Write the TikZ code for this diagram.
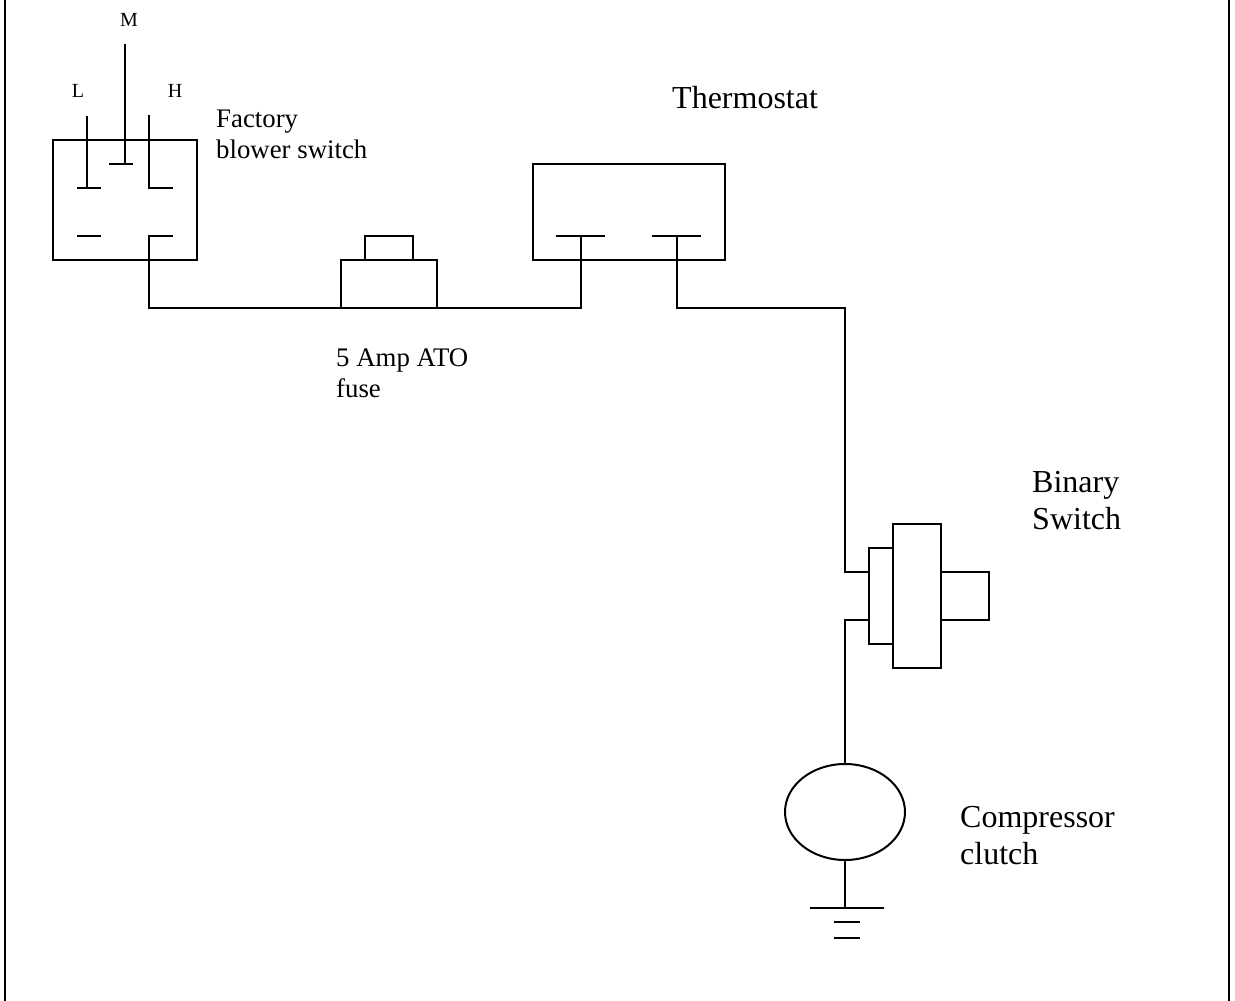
\documentclass[tikz,border=0pt]{standalone}
\usepackage{fontspec}
\setmainfont{Liberation Serif}
\usetikzlibrary{shapes.geometric}
\tikzset{
  wire/.style={line width=2pt, color=black},
  part/.style={draw, line width=2pt, inner sep=0pt, outer sep=0pt},
  small/.style={anchor=base, inner sep=0pt, font=\fontsize{20}{24}\selectfont},
  mid/.style={anchor=base west, inner sep=0pt, align=left, font=\fontsize{26.8}{30.5}\selectfont},
  big/.style={anchor=base west, inner sep=0pt, align=left, font=\fontsize{32}{36.5}\selectfont},
}
\begin{document}
\begin{tikzpicture}[x=1pt, y=-1pt]
    \useasboundingbox (0,0) rectangle (1235,1001);

    % frame
    \coordinate (frameA) at (5,0);
    \coordinate (frameB) at (5,1001);
    \coordinate (frameC) at (1229,0);
    \coordinate (frameD) at (1229,1001);
    \draw[line width=2.4pt] (frameA) -- (frameB) (frameC) -- (frameD);

    % parts
    \node[part, minimum width=144pt, minimum height=120pt] (blower) at (125,200) {};
    \node[part, minimum width=96pt, minimum height=48pt] (fuse) at (389,284) {};
    \node[part, minimum width=48pt, minimum height=24pt] (fusecap) at (389,248) {};
    \node[part, minimum width=192pt, minimum height=96pt] (thermo) at (629,212) {};
    \node[part, minimum width=24pt, minimum height=96pt] (binaryA) at (881,596) {};
    \node[part, minimum width=48pt, minimum height=144pt] (binaryB) at (917,596) {};
    \node[part, minimum width=48pt, minimum height=48pt] (binaryC) at (965,596) {};
    \node[part, ellipse, minimum width=120pt, minimum height=96pt] (clutch) at (845,812) {};

    % switch contacts
    \coordinate (lowTop) at (87,116);
    \coordinate (lowEnd) at (87,188);
    \coordinate (medTop) at (125,44);
    \coordinate (medEnd) at (125,164);
    \coordinate (highTop) at (149,115);
    \coordinate (highEnd) at (173,188);
    \coordinate (outEnd) at (173,236);
    \coordinate (blankL) at (77,236);
    \coordinate (blankR) at (101,236);
    \draw[wire] (lowTop) -- (lowEnd) +(-10,0) -- +(14,0);
    \draw[wire] (medTop) -- (medEnd) +(-16,0) -- +(8,0);
    \draw[wire] (highTop) |- (highEnd);
    \draw[wire] (blankL) -- (blankR);

    % thermostat contacts
    \coordinate (thermoL) at (581,236);
    \coordinate (thermoR) at (677,236);
    \draw[wire] (thermoL) +(-25,0) -- +(24,0);
    \draw[wire] (thermoR) +(-25,0) -- +(24,0);

    % wiring
    \coordinate (binaryIn) at (binaryA.west |- 0,572);
    \coordinate (binaryOut) at (binaryA.west |- 0,620);
    \draw[wire] (outEnd) -- (149,236) |- (fuse.south west);
    \draw[wire] (fuse.south east) -| (thermoL);
    \draw[wire] (thermoR) |- (845,308) |- (binaryIn);
    \draw[wire] (binaryOut) -| (clutch.north);

    % ground
    \coordinate (earth) at (845,908);
    \draw[wire] (clutch.south) -- (earth);
    \draw[wire] (earth) +(-35,0) -- +(39,0);
    \foreach \gy in {922,938}{ \draw[wire] (834,\gy) -- (860,\gy); }

    % labels
    \node[small] (labelM) at (129,26) {M};
    \node[small] (labelL) at (78,97) {L};
    \node[small] (labelH) at (175,97) {H};
    \node[mid] (labelBlower) at (216,158) {Factory\\blower switch};
    \node[mid] (labelFuse) at (336,397) {5 Amp ATO\\fuse};
    \node[big] (labelThermo) at (672,108) {Thermostat};
    \node[big] (labelBinary) at (1032,529) {Binary\\Switch};
    \node[big] (labelClutch) at (960,864) {Compressor\\clutch};
\end{tikzpicture}
\end{document}
